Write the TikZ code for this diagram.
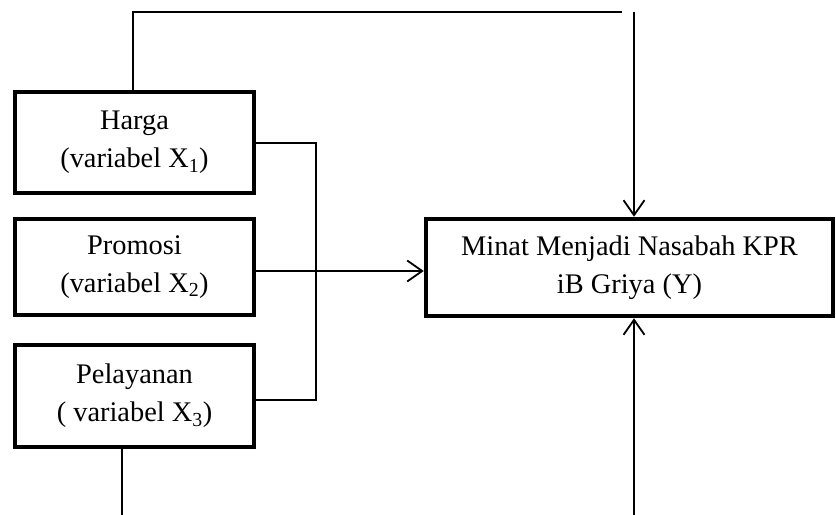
\documentclass[tikz,border=0pt]{standalone}
\usepackage{fontspec}
\setmainfont{Liberation Serif}
\usetikzlibrary{arrows.meta}

\begin{document}
\begin{tikzpicture}[x=1bp, y=-1bp, font=\fontsize{28.5}{38}\selectfont, line join=miter, >={Straight Barb[length=15bp,width=21bp]},
	kotak/.style={draw, line width=4.5bp, align=center, inner sep=0pt},
	garis/.style={line width=1.8bp}]
	\useasboundingbox (0,0) rectangle (836,515);
	% kotak variabel
	\node[kotak, minimum width=239bp, minimum height=101bp] (X_1) at (134.5,142.5) {Harga\\(variabel X\textsubscript{1})};
	\node[kotak, minimum width=239bp, minimum height=96bp] (X_2) at (134.5,267) {Promosi\\(variabel X\textsubscript{2})};
	\node[kotak, minimum width=239bp, minimum height=102bp] (X_3) at (134.5,396) {Pelayanan\\( variabel X\textsubscript{3})};
	\node[kotak, minimum width=407bp, minimum height=97bp] (Y) at (629.5,267.5) {Minat Menjadi Nasabah KPR\\iB Griya (Y)};
	% titik bantu
	\coordinate (A_1) at (133,12);
	\coordinate (A_2) at (622,12);
	\coordinate (B_1) at (634,12);
	\coordinate (C_1) at (316,143);
	\coordinate (C_2) at (316,400);
	\coordinate (D_1) at (122,515);
	\coordinate (D_2) at (634,515);
	% garis
	\draw[garis] (X_1.north -| A_1)--(A_1)--(A_2);
	\draw[garis,->] (B_1)--(B_1 |- Y.north);
	\draw[garis] (X_1.east |- C_1)--(C_1)--(C_2)--(X_3.east |- C_2);
	\draw[garis,->] ([yshift=-4bp]X_2.east)--([yshift=-4bp]X_2.east -| Y.west);
	\draw[garis] (X_3.south -| D_1)--(D_1);
	\draw[garis,->] (D_2)--(D_2 |- Y.south);
\end{tikzpicture}
\end{document}
